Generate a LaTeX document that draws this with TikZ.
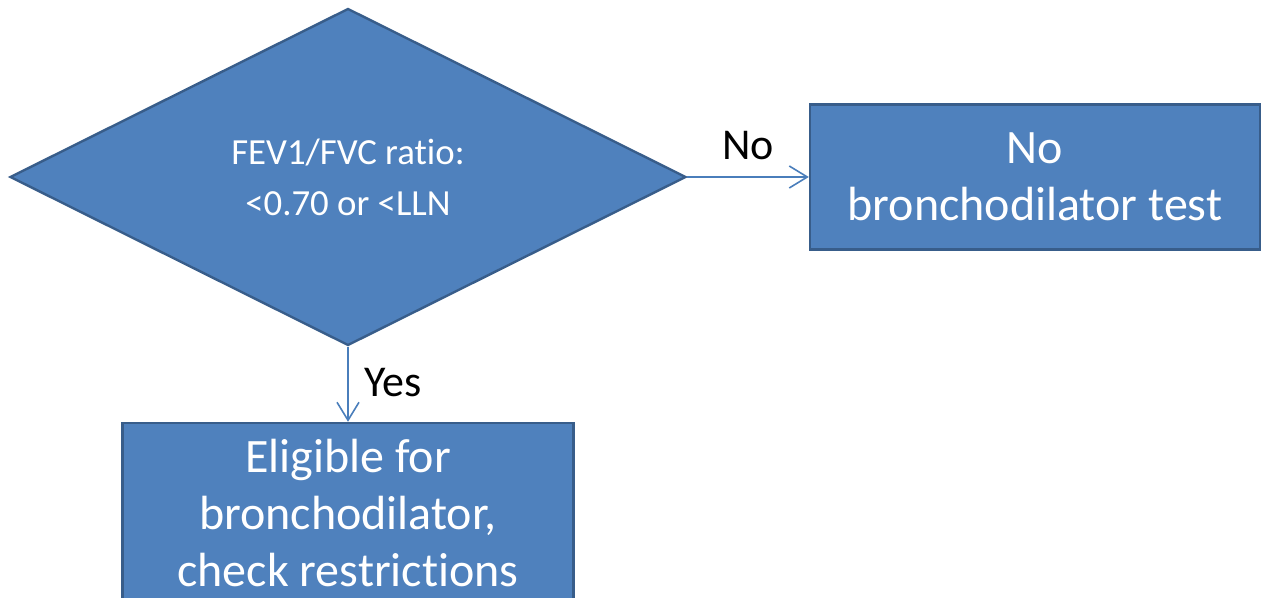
\documentclass[tikz,border=0pt]{standalone}
\usepackage{fontspec}
\setmainfont{Carlito}[Ligatures={NoCommon,NoContextual,NoRequired}]
\usetikzlibrary{shapes.geometric,arrows.meta}
\definecolor{boxfill}{HTML}{4F81BD}
\definecolor{boxline}{HTML}{385D8A}
\definecolor{linkblue}{HTML}{4A7EBB}

\begin{document}
\begin{tikzpicture}[x=0.5pt,y=-0.5pt,
	decision/.style={diamond,aspect=2,draw=boxline,fill=boxfill,line width=1.2pt,inner sep=0pt,
		minimum width=338pt,minimum height=168.5pt,text=white,align=center,
		font=\fontsize{18.4}{25.5}\selectfont},
	outcome/.style={rectangle,draw=boxline,fill=boxfill,line width=1.2pt,inner sep=0pt,
		text=white,align=center,font=\fontsize{24}{28.5}\selectfont},
	link/.style={draw=linkblue,line width=0.8pt,-{Straight Barb[length=9pt,width=11pt]}},
	answer/.style={font=\fontsize{22}{26}\selectfont}]
	\useasboundingbox (0,0) rectangle (1262,598);
	\node[decision] (ratio) at (348,177) {FEV1/FVC ratio:\\<0.70 or <LLN};
	\node[outcome,minimum width=225pt,minimum height=72.5pt] (notest) at (1035,177) {No\\bronchodilator test};
	\node[outcome,minimum width=225.5pt,minimum height=90pt] (eligible) at (348,513) {Eligible for\\bronchodilator,\\check restrictions};
	\node[answer] (no) at (748,146) {No};
	\node[answer] (yes) at (393,383) {Yes};
	\draw [link] (ratio) -- (notest);
	\draw [link] (ratio) -- (eligible);
\end{tikzpicture}
\end{document}
